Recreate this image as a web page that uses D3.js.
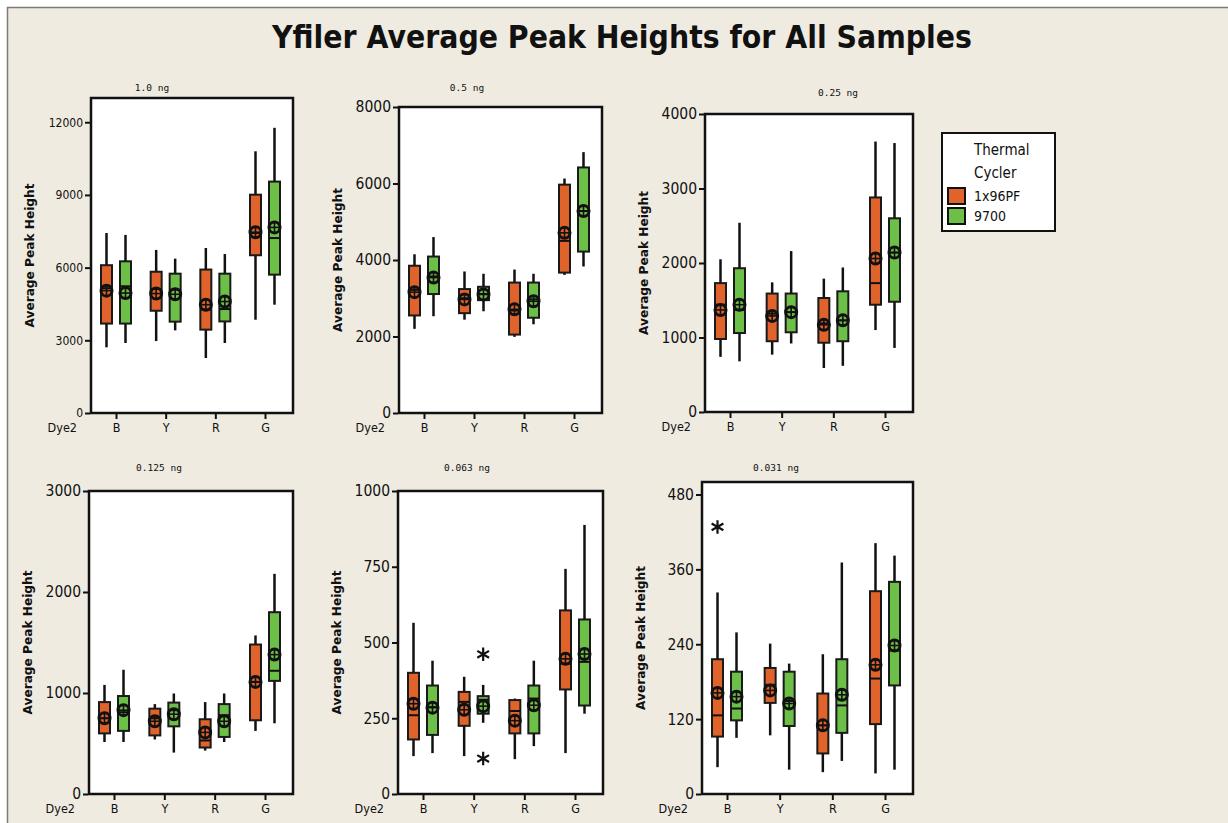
<!DOCTYPE html>
<html lang="en">
<head>
<meta charset="UTF-8">
<script src="https://cdn.jsdelivr.net/npm/d3@7"></script>
<title>Yfiler Average Peak Heights</title>
<style>
  body { margin: 0; background: #fff; }
  text { font-family: "DejaVu Sans Condensed", "DejaVu Sans", sans-serif; fill: #111; }
</style>
</head>
<body>
<script>
    // panels (amount of DNA), dyes and thermal cyclers
    const doses = ["1.0 ng", "0.5 ng", "0.25 ng", "0.125 ng", "0.063 ng", "0.031 ng"]
    const dyes = ["B", "Y", "R", "G"]
    const cyclers = ["1x96PF", "9700"]
    const yMax = [13000, 8000, 4000, 3000, 1000, 500]
    const yTicks = [
        [0, 3000, 6000, 9000, 12000],
        [0, 2000, 4000, 6000, 8000],
        [0, 1000, 2000, 3000, 4000],
        [0, 1000, 2000, 3000],
        [0, 250, 500, 750, 1000],
        [0, 120, 240, 360, 480]
    ]

    // [dye, cycler, whisker low, Q1, median, Q3, whisker high, mean]
    const ng1_0 = [
        ["B", "1x96PF", 2710, 3690, 5150, 6100, 7430, 5050],
        ["B", "9700", 2890, 3690, 5230, 6260, 7350, 4950],
        ["Y", "1x96PF", 2970, 4220, 5120, 5830, 6730, 4930],
        ["Y", "9700", 3410, 3770, 5090, 5750, 6370, 4900],
        ["R", "1x96PF", 2270, 3440, 4270, 5920, 6810, 4470],
        ["R", "9700", 2890, 3780, 4290, 5750, 6560, 4600],
        ["G", "1x96PF", 3850, 6510, 7430, 9010, 10800, 7460],
        ["G", "9700", 4470, 5710, 7220, 9550, 11770, 7660]
    ]
    const ng0_5 = [
        ["B", "1x96PF", 2200, 2550, 3220, 3850, 4150, 3160],
        ["B", "9700", 2530, 3110, 3570, 4090, 4600, 3540],
        ["Y", "1x96PF", 2440, 2610, 3000, 3240, 3700, 2970],
        ["Y", "9700", 2660, 2950, 3110, 3300, 3640, 3100],
        ["R", "1x96PF", 1990, 2050, 2680, 3410, 3750, 2710],
        ["R", "9700", 2320, 2490, 2970, 3410, 3640, 2920],
        ["G", "1x96PF", 3610, 3670, 4500, 5970, 6130, 4710],
        ["G", "9700", 3830, 4220, 5280, 6420, 6820, 5280]
    ]
    const ng0_25 = [
        ["B", "1x96PF", 740, 980, 1440, 1730, 2050, 1370],
        ["B", "9700", 680, 1060, 1370, 1930, 2540, 1440],
        ["Y", "1x96PF", 770, 950, 1320, 1590, 1740, 1290],
        ["Y", "9700", 920, 1070, 1340, 1590, 2160, 1340],
        ["R", "1x96PF", 590, 930, 1190, 1530, 1790, 1170],
        ["R", "9700", 620, 950, 1230, 1620, 1940, 1230],
        ["G", "1x96PF", 1100, 1440, 1730, 2880, 3630, 2060],
        ["G", "9700", 860, 1480, 2140, 2600, 3610, 2140]
    ]
    const ng0_125 = [
        ["B", "1x96PF", 515, 600, 750, 910, 1080, 750],
        ["B", "9700", 515, 625, 810, 970, 1230, 830],
        ["Y", "1x96PF", 540, 580, 750, 845, 890, 720],
        ["Y", "9700", 410, 670, 830, 905, 995, 790],
        ["R", "1x96PF", 430, 460, 530, 740, 910, 610],
        ["R", "9700", 515, 565, 780, 890, 995, 720],
        ["G", "1x96PF", 625, 730, 1110, 1480, 1570, 1110],
        ["G", "9700", 700, 1120, 1220, 1800, 2180, 1380]
    ]
    const ng0_063 = [
        ["B", "1x96PF", 125, 180, 260, 400, 565, 298],
        ["B", "9700", 135, 195, 287, 358, 440, 285],
        ["Y", "1x96PF", 125, 225, 304, 337, 387, 278],
        ["Y", "9700", 235, 265, 311, 323, 360, 290],
        ["R", "1x96PF", 115, 200, 274, 310, 315, 242],
        ["R", "9700", 158, 200, 315, 358, 440, 293],
        ["G", "1x96PF", 135, 345, 430, 606, 743, 446],
        ["G", "9700", 265, 292, 436, 576, 888, 462]
    ]
    const ng0_031 = [
        ["B", "1x96PF", 43, 92, 126, 216, 323, 162],
        ["B", "9700", 90, 118, 137, 196, 259, 156],
        ["Y", "1x96PF", 94, 146, 175, 202, 241, 166],
        ["Y", "9700", 39, 109, 149, 196, 209, 145],
        ["R", "1x96PF", 35, 65, 110, 161, 224, 110],
        ["R", "9700", 53, 98, 142, 216, 371, 159],
        ["G", "1x96PF", 33, 112, 185, 325, 402, 207],
        ["G", "9700", 39, 174, 230, 340, 382, 238]
    ]
    const panelStats = [ng1_0, ng0_5, ng0_25, ng0_125, ng0_063, ng0_031]

    // outliers: [panel index, dye, cycler, value]
    const outliers = [
        [4, "Y", "9700", 461],
        [4, "Y", "9700", 117],
        [5, "B", "1x96PF", 428]
    ]

    // layout of each panel frame and its little title
    const frames = [
        {l: 91, t: 98, r: 293, b: 413, tx: 152, ty: 91, big: false},
        {l: 399, t: 107, r: 602, b: 413, tx: 467, ty: 91, big: true},
        {l: 705, t: 114, r: 913, b: 412, tx: 838, ty: 96, big: true},
        {l: 89, t: 491, r: 293, b: 794, tx: 159, ty: 471, big: true},
        {l: 398, t: 491, r: 603, b: 794, tx: 467, ty: 471, big: true},
        {l: 702, t: 482, r: 913, b: 794, tx: 776, ty: 471, big: true}
    ]

    const colors = d3.scaleOrdinal().domain(cyclers).range(["#e0632b", "#6cbf47"])
    const offset = d3.scaleOrdinal().domain(cyclers).range([-9.5, 9.5])
    const boxW = 11

    const svg = d3.select("body").append("svg").attr("width", 1228).attr("height", 823)

    // page background
    svg.append("rect").attr("x", 7).attr("y", 7).attr("width", 1221).attr("height", 816).attr("fill", "#efebe1")
    svg.append("line").attr("x1", 7).attr("y1", 7.5).attr("x2", 1228).attr("y2", 7.5).attr("stroke", "#7a7a7a").attr("stroke-width", 1.5)
    svg.append("line").attr("x1", 7.5).attr("y1", 7).attr("x2", 7.5).attr("y2", 823).attr("stroke", "#7a7a7a").attr("stroke-width", 1.5)

    svg.append("text")
        .attr("x", 622).attr("y", 48)
        .attr("text-anchor", "middle")
        .attr("textLength", 700).attr("lengthAdjust", "spacingAndGlyphs")
        .style("font-family", "'DejaVu Sans', sans-serif")
        .style("font-weight", "bold").style("font-size", "32px")
        .text("Yfiler Average Peak Heights for All Samples")

    let drawPanel = (i) => {
        const f = frames[i]
        const g = svg.append("g")
        const y = d3.scaleLinear().domain([0, yMax[i]]).range([f.b, f.t])
        const x = d3.scalePoint().domain(dyes).range([f.l + 25, f.r - 28])

        g.append("rect")
            .attr("x", f.l).attr("y", f.t)
            .attr("width", f.r - f.l).attr("height", f.b - f.t)
            .attr("fill", "#fff").attr("stroke", "#111").attr("stroke-width", 2.5)

        const yAxis = g.append("g")
            .attr("transform", "translate(" + (f.l - 1) + ",0)")
            .call(d3.axisLeft(y).tickValues(yTicks[i]).tickFormat(d3.format("d")).tickSize(5).tickPadding(2))
        yAxis.select(".domain").remove()
        yAxis.selectAll("line").attr("stroke", "#111").attr("stroke-width", 2)
        yAxis.selectAll("text")
            .style("font-size", f.big ? "15.5px" : "12px")
            .style("font-family", "'DejaVu Sans Condensed', 'DejaVu Sans', sans-serif")

        const xAxis = g.append("g")
            .attr("transform", "translate(0," + (f.b + 1) + ")")
            .call(d3.axisBottom(x).tickSize(5).tickPadding(4))
        xAxis.select(".domain").remove()
        xAxis.selectAll("line").attr("stroke", "#111").attr("stroke-width", 2)
        xAxis.selectAll("text").style("font-size", "12.5px")

        g.append("text")
            .attr("x", f.l - 14).attr("y", f.b + 19)
            .attr("text-anchor", "end")
            .style("font-size", "12.5px")
            .text("Dye2")

        g.append("text")
            .attr("transform", "translate(" + (f.l - 57) + "," + ((f.t + f.b) / 2) + ") rotate(-90)")
            .attr("text-anchor", "middle")
            .attr("textLength", 144).attr("lengthAdjust", "spacingAndGlyphs")
            .style("font-family", "'DejaVu Sans', sans-serif")
            .style("font-weight", "bold").style("font-size", "12px")
            .text("Average Peak Height")

        g.append("text")
            .attr("x", f.tx).attr("y", f.ty)
            .attr("text-anchor", "middle")
            .style("font-family", "'DejaVu Sans Mono', monospace")
            .style("font-size", "9.5px")
            .text(doses[i])

        const rows = panelStats[i]
        const cx = d => x(d[0]) + offset(d[1])

        // whiskers
        g.selectAll(".whisker").data(rows).enter().append("line")
            .attr("x1", cx).attr("x2", cx)
            .attr("y1", d => y(d[2])).attr("y2", d => y(d[6]))
            .attr("stroke", "#111").attr("stroke-width", 2.5)

        // boxes
        g.selectAll(".box").data(rows).enter().append("rect")
            .attr("x", d => cx(d) - boxW / 2)
            .attr("y", d => y(d[5]))
            .attr("width", boxW)
            .attr("height", d => y(d[3]) - y(d[5]))
            .attr("fill", d => colors(d[1]))
            .attr("stroke", "#1a1a1a").attr("stroke-width", 2)

        // medians
        g.selectAll(".median").data(rows).enter().append("line")
            .attr("x1", d => cx(d) - boxW / 2).attr("x2", d => cx(d) + boxW / 2)
            .attr("y1", d => y(d[4])).attr("y2", d => y(d[4]))
            .attr("stroke", "#111").attr("stroke-width", 2)

        // mean symbols (circle with cross)
        const means = g.selectAll(".mean").data(rows).enter().append("g")
            .attr("transform", d => "translate(" + cx(d) + "," + y(d[7]) + ")")
        means.append("circle").attr("r", 5.5).attr("fill", "none").attr("stroke", "#111").attr("stroke-width", 3)
        means.append("line").attr("x1", -5.5).attr("x2", 5.5).attr("stroke", "#111").attr("stroke-width", 1.6)
        means.append("line").attr("y1", -5.5).attr("y2", 5.5).attr("stroke", "#111").attr("stroke-width", 1.6)

        // outliers
        const outs = outliers.filter(o => o[0] === i)
        g.selectAll(".outlier").data(outs).enter().append("path")
            .attr("d", d3.symbol().type(d3.symbolAsterisk).size(130))
            .attr("transform", d => "translate(" + (x(d[1]) + offset(d[2])) + "," + y(d[3]) + ")")
            .attr("fill", "none").attr("stroke", "#111").attr("stroke-width", 2.2)
    }

    for (let i = 0; i < doses.length; i++) {
        drawPanel(i)
    }

    // legend
    const legend = svg.append("g")
    legend.append("rect")
        .attr("x", 942).attr("y", 133).attr("width", 113).attr("height", 98)
        .attr("fill", "#fff").attr("stroke", "#111").attr("stroke-width", 2)
    legend.append("text").attr("x", 974).attr("y", 155).style("font-size", "15px").text("Thermal")
    legend.append("text").attr("x", 974).attr("y", 178).style("font-size", "15px").text("Cycler")
    legend.selectAll(".sw").data(cyclers).enter().append("rect")
        .attr("x", 948).attr("y", (d, k) => 188 + k * 20)
        .attr("width", 17).attr("height", 16)
        .attr("fill", d => colors(d)).attr("stroke", "#111").attr("stroke-width", 2)
    legend.selectAll(".lt").data(cyclers).enter().append("text")
        .attr("x", 974).attr("y", (d, k) => 201 + k * 20)
        .style("font-size", "14px")
        .text(d => d)
</script>
</body>
</html>
